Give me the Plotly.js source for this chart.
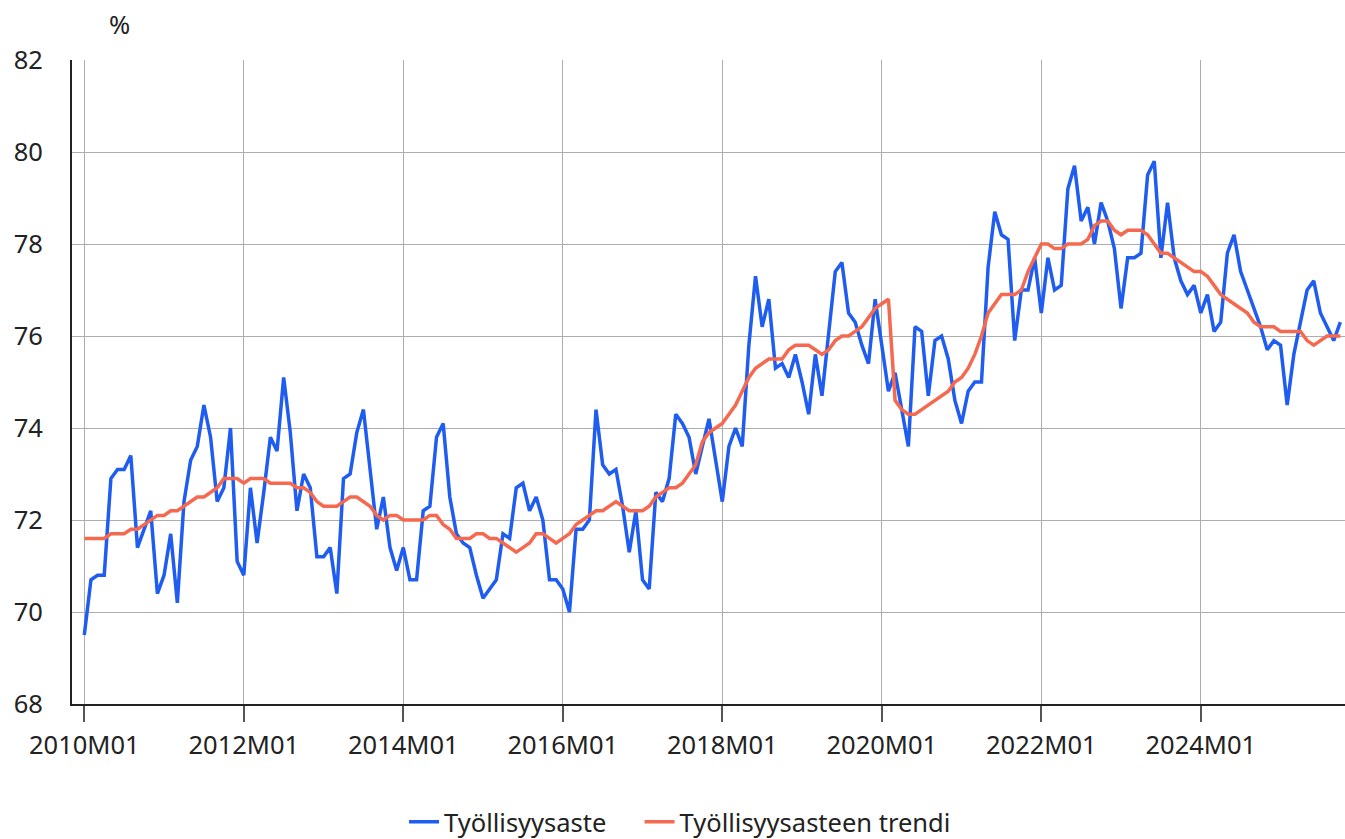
<!DOCTYPE html>
<html>
<head>
<meta charset="utf-8">
<script src="https://cdn.plot.ly/plotly-3.0.1.min.js"></script>
<style>
html,body{margin:0;padding:0;background:#fff;}
#chart{width:1345px;height:839px;}
</style>
</head>
<body>
<div id="chart"></div>
<script>
// Period: 2010M01 .. 2025M10 (monthly)
const startYear = 2010;
const monthCount = 190;

const tyollisyysaste = [
  69.5,70.7,70.8,70.8,72.9,73.1,73.1,73.4,71.4,71.8,72.2,70.4,
  70.8,71.7,70.2,72.4,73.3,73.6,74.5,73.8,72.4,72.7,74.0,71.1,
  70.8,72.7,71.5,72.6,73.8,73.5,75.1,73.9,72.2,73.0,72.7,71.2,
  71.2,71.4,70.4,72.9,73.0,73.9,74.4,73.1,71.8,72.5,71.4,70.9,
  71.4,70.7,70.7,72.2,72.3,73.8,74.1,72.5,71.7,71.5,71.4,70.8,
  70.3,70.5,70.7,71.7,71.6,72.7,72.8,72.2,72.5,72.0,70.7,70.7,
  70.5,70.0,71.8,71.8,72.0,74.4,73.2,73.0,73.1,72.3,71.3,72.2,
  70.7,70.5,72.6,72.4,72.9,74.3,74.1,73.8,73.0,73.6,74.2,73.3,
  72.4,73.6,74.0,73.6,75.8,77.3,76.2,76.8,75.3,75.4,75.1,75.6,
  75.0,74.3,75.6,74.7,76.0,77.4,77.6,76.5,76.3,75.8,75.4,76.8,
  75.8,74.8,75.2,74.4,73.6,76.2,76.1,74.7,75.9,76.0,75.5,74.6,
  74.1,74.8,75.0,75.0,77.5,78.7,78.2,78.1,75.9,77.0,77.0,77.7,
  76.5,77.7,77.0,77.1,79.2,79.7,78.5,78.8,78.0,78.9,78.5,77.9,
  76.6,77.7,77.7,77.8,79.5,79.8,77.7,78.9,77.7,77.2,76.9,77.1,
  76.5,76.9,76.1,76.3,77.8,78.2,77.4,77.0,76.6,76.2,75.7,75.9,
  75.8,74.5,75.6,76.3,77.0,77.2,76.5,76.2,75.9,76.3
];

const tyollisyysasteenTrendi = [
  71.6,71.6,71.6,71.6,71.7,71.7,71.7,71.8,71.8,71.9,72.0,72.1,
  72.1,72.2,72.2,72.3,72.4,72.5,72.5,72.6,72.7,72.9,72.9,72.9,
  72.8,72.9,72.9,72.9,72.8,72.8,72.8,72.8,72.7,72.7,72.6,72.4,
  72.3,72.3,72.3,72.4,72.5,72.5,72.4,72.3,72.1,72.0,72.1,72.1,
  72.0,72.0,72.0,72.0,72.1,72.1,71.9,71.8,71.6,71.6,71.6,71.7,
  71.7,71.6,71.6,71.5,71.4,71.3,71.4,71.5,71.7,71.7,71.6,71.5,
  71.6,71.7,71.9,72.0,72.1,72.2,72.2,72.3,72.4,72.3,72.2,72.2,
  72.2,72.3,72.5,72.6,72.7,72.7,72.8,73.0,73.2,73.7,73.9,74.0,
  74.1,74.3,74.5,74.8,75.1,75.3,75.4,75.5,75.5,75.5,75.7,75.8,
  75.8,75.8,75.7,75.6,75.7,75.9,76.0,76.0,76.1,76.2,76.4,76.6,
  76.7,76.8,74.6,74.4,74.3,74.3,74.4,74.5,74.6,74.7,74.8,75.0,
  75.1,75.3,75.6,76.0,76.5,76.7,76.9,76.9,76.9,77.0,77.4,77.7,
  78.0,78.0,77.9,77.9,78.0,78.0,78.0,78.1,78.4,78.5,78.5,78.3,
  78.2,78.3,78.3,78.3,78.2,78.0,77.8,77.8,77.7,77.6,77.5,77.4,
  77.4,77.3,77.1,76.9,76.8,76.7,76.6,76.5,76.3,76.2,76.2,76.2,
  76.1,76.1,76.1,76.1,75.9,75.8,75.9,76.0,76.0,76.0
];

const tickLabels = ["2010M01","2012M01","2014M01","2016M01","2018M01","2020M01","2022M01","2024M01"];

const months = [];
for (let i = 0; i < monthCount; i++) {
  const y = startYear + Math.floor(i / 12);
  const m = (i % 12) + 1;
  months.push(y + "M" + (m < 10 ? "0" + m : m));
}

const font = "'Noto Sans', 'Open Sans', sans-serif";
const fs = 25.5;

const traces = [
  {
    x: months, y: tyollisyysaste, name: "Työllisyysaste",
    type: "scatter", mode: "lines", legend: "legend",
    line: {color: "#1f5cf0", width: 3.5}
  },
  {
    x: months, y: tyollisyysasteenTrendi, name: "Työllisyysasteen trendi",
    type: "scatter", mode: "lines", legend: "legend2",
    line: {color: "#f4694f", width: 3.5}
  }
];

const legendBase = {
  orientation: "h", xref: "container", yref: "container",
  xanchor: "left", y: 0.02, yanchor: "middle",
  font: {family: font, size: fs, color: "#222"},
  itemwidth: 30, bgcolor: "rgba(0,0,0,0)"
};

const layout = {
  width: 1345, height: 839,
  margin: {l: 72, r: 0, t: 60, b: 135},
  paper_bgcolor: "#fff", plot_bgcolor: "#fff",
  font: {family: font, size: fs, color: "#222"},
  showlegend: true,
  legend: Object.assign({}, legendBase, {x: 0.3004}),
  legend2: Object.assign({}, legendBase, {x: 0.4755}),
  xaxis: {
    type: "category",
    range: [-1.85, 189.7],
    tickmode: "array", tickvals: tickLabels, ticktext: tickLabels,
    showgrid: true, gridcolor: "#adadad", gridwidth: 1,
    ticks: "outside", ticklen: 16, tickcolor: "#555", tickwidth: 1.5,
    showline: true, linecolor: "#222", linewidth: 2,
    tickfont: {family: font, size: fs, color: "#222"},
    ticklabelstandoff: 1,
    zeroline: false
  },
  yaxis: {
    range: [68, 82], tickvals: [68,70,72,74,76,78,80,82],
    showgrid: true, gridcolor: "#adadad", gridwidth: 1,
    ticks: "", showline: true, linecolor: "#222", linewidth: 2,
    tickfont: {family: font, size: fs, color: "#222"},
    ticklabelstandoff: 22,
    zeroline: false
  },
  annotations: [
    {text: "%", xref: "paper", yref: "paper", x: 0.0377, y: 1.056,
     xanchor: "center", yanchor: "middle", showarrow: false,
     font: {family: font, size: fs, color: "#222"}}
  ]
};

Plotly.newPlot("chart", traces, layout, {displayModeBar: false, responsive: false});
</script>
</body>
</html>
